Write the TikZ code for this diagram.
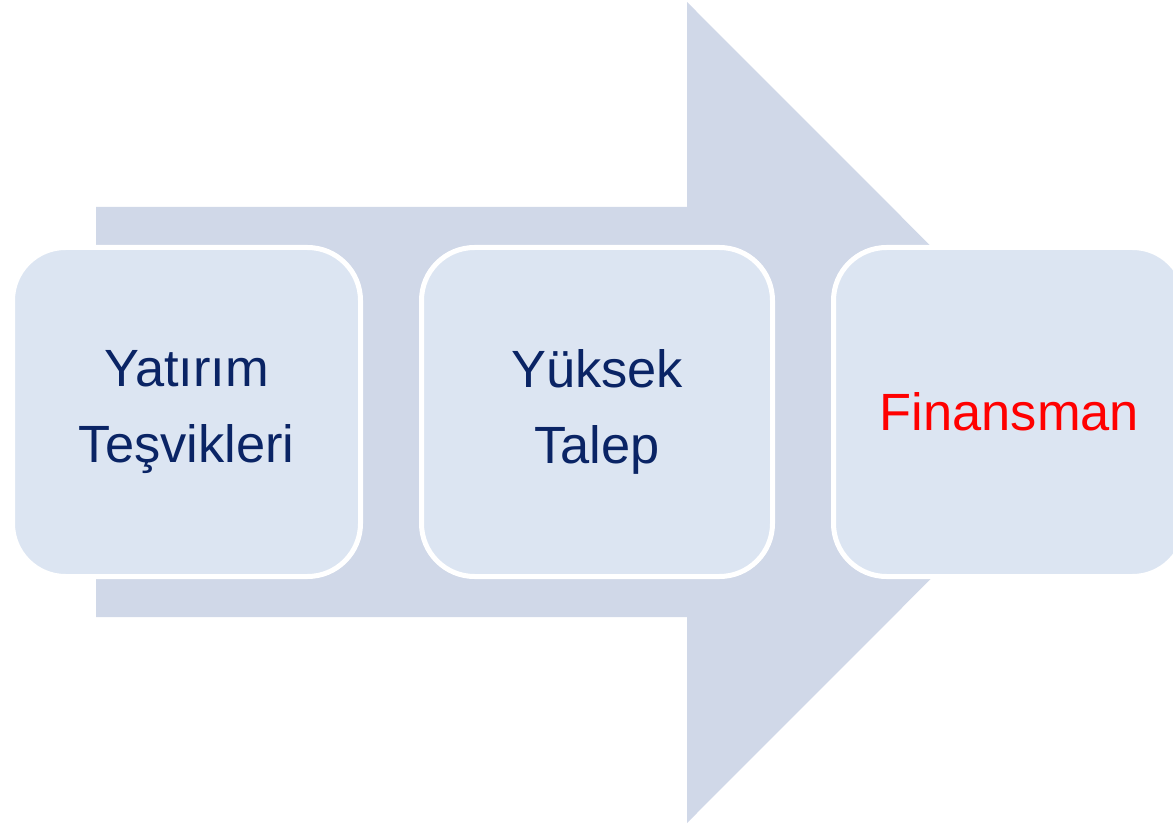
\documentclass[tikz,border=0pt]{standalone}
\usepackage{fontspec}
\setmainfont{Liberation Sans}
\definecolor{arrowfill}{HTML}{D0D8E8}
\definecolor{boxfill}{HTML}{DCE5F2}
\definecolor{navy}{RGB}{10,36,101}
\definecolor{redtxt}{HTML}{FF0000}
\tikzset{
  bigarrow/.style={fill=arrowfill, draw=none},
  stagebox/.style={rectangle, rounded corners=53pt, fill=boxfill, draw=white, line width=5pt,
    minimum height=329pt, align=center, inner sep=0pt,
    font=\fontsize{52.4}{76}\selectfont, text=navy},
}
\begin{document}
\begin{tikzpicture}[x=1pt,y=-1pt]
\useasboundingbox (0,0) rectangle (1173,826);
\clip (0,0) rectangle (1173,826);
\fill[bigarrow] (96,207) -- (687,207) -- (687,2) -- (1097,412.5) -- (687,823) -- (687,617) -- (96,617) -- cycle;
\node[stagebox, minimum width=348pt] (b1) at (186.5,412) {Yatırım\\Teşvikleri};
\node[stagebox, minimum width=351pt] (b2) at (597,412) {Yüksek\\Talep};
\node[stagebox, minimum width=352pt, text=redtxt] (b3) at (1009.5,412) {Finansman};
\end{tikzpicture}
\end{document}
